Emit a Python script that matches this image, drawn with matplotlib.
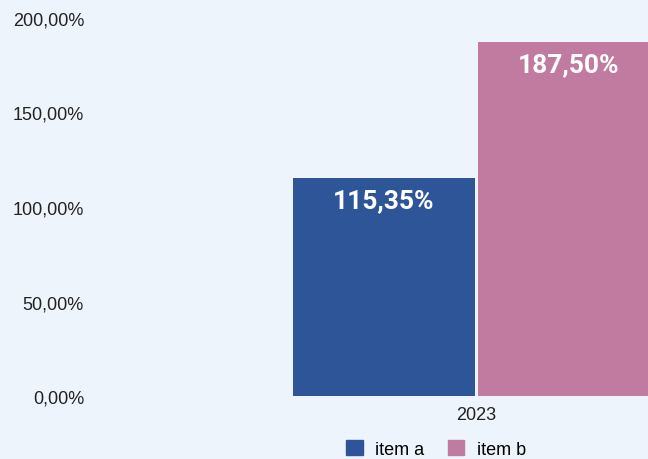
import numpy as np
import matplotlib.pyplot as plt
from matplotlib.patches import Patch

# dados
categorias = ['2023']
series = ['item a', 'item b']
valores = [115.35, 187.50]
cores = ['#2E5597', '#C27BA0']
yticks = [0, 50, 100, 150, 200]

def fmt(v):
    return f'{v:.2f}'.replace('.', ',') + '%'

fundo = '#EEF4FB'
fig = plt.figure(figsize=(6.48, 4.60), dpi=100, facecolor=fundo)
# eixo vai alem da borda direita (grafico cortado no original)
ax = fig.add_axes([100 / 648, 63 / 460, 548 / 648, 378 / 460], facecolor=fundo)

largura = 0.4
gap = 0.0066
x = np.arange(len(categorias))
offsets = [-(largura + gap) / 2, (largura + gap) / 2]

for v, c, off, nome in zip(valores, cores, offsets, series):
    ax.bar(x + off, [v], width=largura, color=c, label=nome, zorder=2)
    # rotulo dentro da barra, perto do topo
    ax.annotate(fmt(v), xy=(x[0] + off, v), xytext=(0, -16), textcoords='offset points',
                ha='center', va='center', color='white', fontsize=19,
                fontweight='bold', family='Roboto', zorder=3)

ax.set_xlim(-0.8275, 0.377)
ax.set_ylim(0, 200)
ax.set_yticks(yticks)
ax.set_yticklabels([fmt(t) for t in yticks], family='Liberation Sans', fontsize=13, color='#222222')
ax.set_xticks(x)
ax.set_xticklabels(categorias, family='Liberation Sans', fontsize=13, color='#222222')
ax.tick_params(axis='y', length=0, pad=11.5)
ax.tick_params(axis='x', length=0, pad=7)
for s in ax.spines.values():
    s.set_visible(False)

handles = [Patch(color=c, label=n) for c, n in zip(cores, series)]
fig.legend(handles=handles, loc='center', bbox_to_anchor=(436 / 648, 10 / 460), ncol=2,
           frameon=False, handlelength=0.9, handleheight=0.9, columnspacing=1.3,
           handletextpad=0.7, borderpad=0.1, prop={'family': 'Liberation Sans', 'size': 13})

fig.savefig('out.png', dpi=100, facecolor=fundo)
